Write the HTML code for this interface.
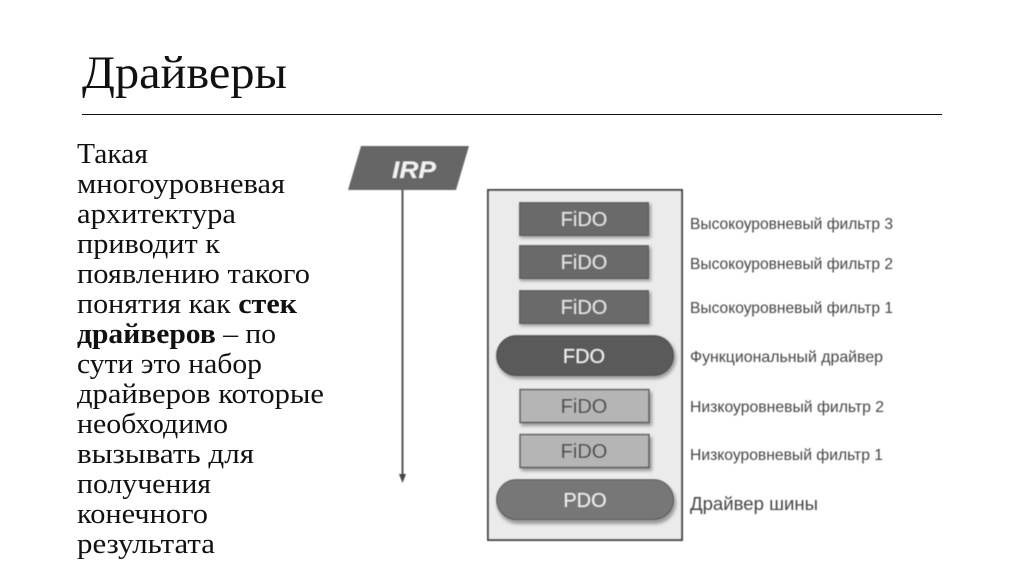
<!DOCTYPE html>
<html lang="ru">
<head>
<meta charset="utf-8">
<title>Драйверы</title>
<style>
html,body{margin:0;padding:0;background:#fff;width:1024px;height:574px;overflow:hidden}
svg{display:block}
.b{font-family:"Liberation Serif",serif;font-size:28px;fill:#111}
.l{font-family:"Liberation Sans",sans-serif;font-size:16px;fill:#444}
.n{font-family:"Liberation Sans",sans-serif;font-size:20px;text-anchor:middle}
</style>
</head>
<body>
<svg width="1024" height="574" viewBox="0 0 1024 574" xmlns="http://www.w3.org/2000/svg">
<defs>
<filter id="s" x="-10%" y="-20%" width="120%" height="140%"><feGaussianBlur stdDeviation="0.5"/></filter>
<filter id="sh" x="-10%" y="-20%" width="120%" height="150%"><feGaussianBlur stdDeviation="1.6"/></filter>
</defs>
<text x="82" y="88" font-family="Liberation Serif, serif" font-size="47" fill="#111" textLength="205" lengthAdjust="spacingAndGlyphs">Драйверы</text>
<rect x="82" y="114" width="860" height="1" fill="#111"/>

<text class="b" x="77" y="163" textLength="71" lengthAdjust="spacingAndGlyphs">Такая</text>
<text class="b" x="77" y="193" textLength="208" lengthAdjust="spacingAndGlyphs">многоуровневая</text>
<text class="b" x="77" y="223" textLength="159" lengthAdjust="spacingAndGlyphs">архитектура</text>
<text class="b" x="77" y="253" textLength="143" lengthAdjust="spacingAndGlyphs">приводит к</text>
<text class="b" x="77" y="283" textLength="233" lengthAdjust="spacingAndGlyphs">появлению такого</text>
<text class="b" x="77" y="313" textLength="220" lengthAdjust="spacingAndGlyphs">понятия как <tspan font-weight="bold">стек</tspan></text>
<text class="b" x="77" y="343" textLength="199" lengthAdjust="spacingAndGlyphs"><tspan font-weight="bold">драйверов</tspan> – по</text>
<text class="b" x="77" y="373" textLength="185" lengthAdjust="spacingAndGlyphs">сути это набор</text>
<text class="b" x="77" y="403" textLength="247" lengthAdjust="spacingAndGlyphs">драйверов которые</text>
<text class="b" x="77" y="433" textLength="151" lengthAdjust="spacingAndGlyphs">необходимо</text>
<text class="b" x="77" y="463" textLength="177" lengthAdjust="spacingAndGlyphs">вызывать для</text>
<text class="b" x="77" y="493" textLength="134" lengthAdjust="spacingAndGlyphs">получения</text>
<text class="b" x="77" y="523" textLength="131" lengthAdjust="spacingAndGlyphs">конечного</text>
<text class="b" x="77" y="553" textLength="138" lengthAdjust="spacingAndGlyphs">результата</text>

<g filter="url(#s)">
<polygon points="361,146 469,146 456,190 348,190" fill="#666"/>
<text x="414" y="178" font-family="Liberation Sans, sans-serif" font-size="24" font-weight="bold" font-style="italic" fill="#f2f2f2" text-anchor="middle" textLength="44" lengthAdjust="spacingAndGlyphs">IRP</text>
<line x1="402.500" y1="190" x2="402.500" y2="478" stroke="#555" stroke-width="2"/>
<polygon points="399,474 406,474 402.500,483" fill="#444"/>

<rect x="488" y="190" width="194" height="350" fill="#ebebeb" stroke="#444" stroke-width="2"/>

<g fill="#777" filter="url(#sh)" opacity=".7">
<rect x="520" y="204" width="131" height="34"/>
<rect x="520" y="247" width="131" height="34"/>
<rect x="520" y="292" width="131" height="34"/>
<rect x="497" y="337" width="179" height="42" rx="21"/>
<rect x="521" y="392" width="131" height="34"/>
<rect x="521" y="437" width="131" height="34"/>
<rect x="497" y="482" width="179" height="42" rx="21"/>
</g>

<rect x="519.500" y="202.500" width="129" height="33" fill="#6a6a6a" stroke="#4e4e4e"/>
<rect x="519.500" y="245.500" width="129" height="33" fill="#6a6a6a" stroke="#4e4e4e"/>
<rect x="519.500" y="290.500" width="129" height="33" fill="#6a6a6a" stroke="#4e4e4e"/>
<rect x="496.500" y="335.500" width="177" height="40" rx="20" fill="#5a5a5a" stroke="#484848"/>
<rect x="520" y="389.500" width="129" height="33" fill="#b5b5b5" stroke="#585858" stroke-width="1.500"/>
<rect x="520" y="434.500" width="129" height="33" fill="#b5b5b5" stroke="#585858" stroke-width="1.500"/>
<rect x="496.500" y="479.500" width="177" height="40" rx="20" fill="#777" stroke="#555"/>

<text class="n" x="584" y="226" fill="#e4e4e4">FiDO</text>
<text class="n" x="584" y="269" fill="#e4e4e4">FiDO</text>
<text class="n" x="584" y="314" fill="#e4e4e4">FiDO</text>
<text class="n" x="584" y="363" fill="#f0f0f0">FDO</text>
<text class="n" x="584" y="413" fill="#444">FiDO</text>
<text class="n" x="584" y="458" fill="#444">FiDO</text>
<text class="n" x="585" y="507" fill="#f0f0f0">PDO</text>

<text class="l" x="690" y="229" textLength="203" lengthAdjust="spacingAndGlyphs">Высокоуровневый фильтр 3</text>
<text class="l" x="690" y="269" textLength="203" lengthAdjust="spacingAndGlyphs">Высокоуровневый фильтр 2</text>
<text class="l" x="690" y="313" textLength="203" lengthAdjust="spacingAndGlyphs">Высокоуровневый фильтр 1</text>
<text class="l" x="690" y="362" textLength="193" lengthAdjust="spacingAndGlyphs">Функциональный драйвер</text>
<text class="l" x="690" y="412" textLength="194" lengthAdjust="spacingAndGlyphs">Низкоуровневый фильтр 2</text>
<text class="l" x="690" y="460" textLength="193" lengthAdjust="spacingAndGlyphs">Низкоуровневый фильтр 1</text>
<text class="l" x="690" y="510" style="font-size:18px" textLength="128" lengthAdjust="spacingAndGlyphs">Драйвер шины</text>
</g>
</svg>
</body>
</html>
